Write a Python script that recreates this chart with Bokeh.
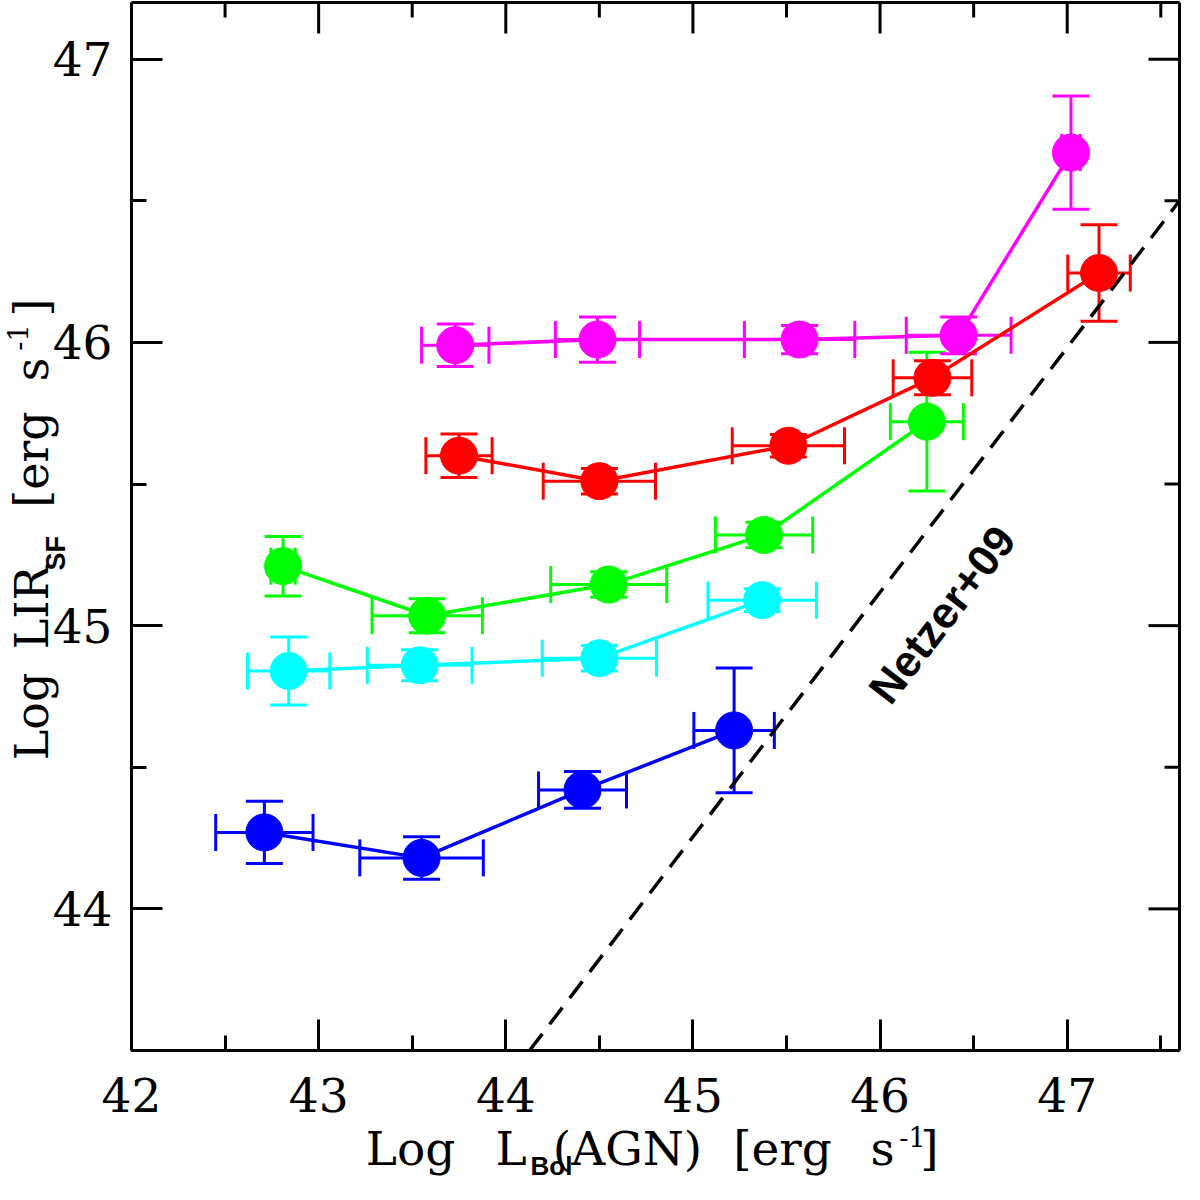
import numpy as np
from bokeh.plotting import figure
from bokeh.models import ColumnDataSource, Whisker, TeeHead, LinearAxis, FixedTicker, Label, Range1d
from bokeh.embed import file_html
from bokeh.resources import INLINE

# Log L_Bol(AGN), Log LIR_SF and their errors
blue_x = [42.71, 43.55, 44.41, 45.22]
blue_y = [44.27, 44.18, 44.42, 44.63]
blue_xerr = [0.26, 0.33, 0.235, 0.215]
blue_yerr = [0.11, 0.075, 0.065, 0.22]

cyan_x = [42.84, 43.54, 44.50, 45.37]
cyan_y = [44.84, 44.86, 44.885, 45.09]
cyan_xerr = [0.22, 0.28, 0.305, 0.29]
cyan_yerr = [0.12, 0.055, 0.045, 0.04]

green_x = [42.81, 43.58, 44.55, 45.38, 46.25]
green_y = [45.21, 45.035, 45.145, 45.32, 45.72]
green_xerr = [0.065, 0.295, 0.31, 0.26, 0.195]
green_yerr = [0.105, 0.06, 0.045, 0.045, 0.245]

red_x = [43.75, 44.50, 45.51, 46.28, 47.17]
red_y = [45.60, 45.51, 45.635, 45.875, 46.245]
red_xerr = [0.177, 0.30, 0.30, 0.21, 0.167]
red_yerr = [0.077, 0.045, 0.04, 0.06, 0.17]

magenta_x = [43.73, 44.49, 45.57, 46.42, 47.02]
magenta_y = [45.99, 46.01, 46.01, 46.025, 46.67]
magenta_xerr = [0.18, 0.225, 0.295, 0.28, 0.05]
magenta_yerr = [0.075, 0.08, 0.05, 0.065, 0.2]

# Netzer+09 relation (end points of the dashed line)
netzer_x = [44.127, 47.6]
netzer_y = [43.5, 46.50]

x_lim = (42.0, 47.6)
y_lim = (43.5, 47.2)
x_ticks = [42, 43, 44, 45, 46, 47]
x_minor = [42.5, 43.5, 44.5, 45.5, 46.5, 47.5]
y_ticks = [44, 45, 46, 47]
y_minor = [43.5, 44.5, 45.5, 46.5]

series = [
    ("#0000ff", blue_x, blue_y, blue_xerr, blue_yerr),
    ("#00ffff", cyan_x, cyan_y, cyan_xerr, cyan_yerr),
    ("#00ff00", green_x, green_y, green_xerr, green_yerr),
    ("#ff0000", red_x, red_y, red_xerr, red_yerr),
    ("#ff00ff", magenta_x, magenta_y, magenta_xerr, magenta_yerr),
]

SERIF = "DejaVu Serif"
SANS = "Liberation Sans"

# canvas layout: the frame fills the whole canvas, the box sits inside it
W, H = 1184, 1184
BOX_L, BOX_R, BOX_T, BOX_B = 131, 1179, 2, 1050
xpp = (x_lim[1] - x_lim[0]) / (BOX_R - BOX_L)
ypp = (y_lim[1] - y_lim[0]) / (BOX_B - BOX_T)
x_range = Range1d(x_lim[0] - BOX_L * xpp, x_lim[1] + (W - BOX_R) * xpp)
y_range = Range1d(y_lim[0] - (H - BOX_B) * ypp, y_lim[1] + BOX_T * ypp)

p = figure(width=W, height=H, x_range=x_range, y_range=y_range,
           x_axis_location=None, y_axis_location=None,
           min_border=0, output_backend="svg", toolbar_location=None)
p.grid.visible = False
p.outline_line_color = None
p.background_fill_color = "white"
p.border_fill_color = "white"

MAJOR, MINOR = 31, 15


def style_axis(ax, ticks, minor, standoff):
    ax.ticker = FixedTicker(ticks=ticks, minor_ticks=minor)
    ax.axis_line_width = 3
    ax.axis_line_color = "black"
    ax.major_tick_line_width = 3
    ax.minor_tick_line_width = 3
    ax.major_tick_in = MAJOR
    ax.major_tick_out = 0
    ax.minor_tick_in = MINOR
    ax.minor_tick_out = 0
    ax.major_label_text_font = SERIF
    ax.major_label_text_font_size = "47px"
    ax.major_label_text_color = "black"
    ax.major_label_standoff = standoff


xaxis = LinearAxis(fixed_location=y_lim[0], bounds=x_lim)
style_axis(xaxis, x_ticks, x_minor, 27)
p.add_layout(xaxis, "below")
yaxis = LinearAxis(fixed_location=x_lim[0], bounds=y_lim)
style_axis(yaxis, y_ticks, y_minor, 19)
p.add_layout(yaxis, "left")

# top and right edges of the box with inward ticks
p.segment(x0=[x_lim[0], x_lim[1]], y0=[y_lim[1], y_lim[0]], x1=[x_lim[1], x_lim[1]],
          y1=[y_lim[1], y_lim[1]], line_color="black", line_width=3)
for t, n in ((x_ticks, MAJOR), (x_minor, MINOR)):
    p.segment(x0=t, x1=t, y0=[y_lim[1]] * len(t), y1=[y_lim[1] - n * ypp] * len(t),
              line_color="black", line_width=3)
for t, n in ((y_ticks, MAJOR), (y_minor, MINOR)):
    p.segment(y0=t, y1=t, x0=[x_lim[1]] * len(t), x1=[x_lim[1] - n * xpp] * len(t),
              line_color="black", line_width=3)

p.line(netzer_x, netzer_y, line_color="black", line_width=3.5, line_dash="21 12")

for c, x, y, xe, ye in series:
    x = np.array(x)
    y = np.array(y)
    xe = np.array(xe)
    ye = np.array(ye)
    src = ColumnDataSource(dict(x=x, y=y, xl=x - xe, xu=x + xe, yl=y - ye, yu=y + ye))
    p.add_layout(Whisker(source=src, base="x", lower="yl", upper="yu", dimension="height",
                         line_color=c, line_width=3,
                         lower_head=TeeHead(size=37, line_color=c, line_width=3),
                         upper_head=TeeHead(size=37, line_color=c, line_width=3)))
    p.add_layout(Whisker(source=src, base="y", lower="xl", upper="xu", dimension="width",
                         line_color=c, line_width=3,
                         lower_head=TeeHead(size=37, line_color=c, line_width=3),
                         upper_head=TeeHead(size=37, line_color=c, line_width=3)))
    p.line("x", "y", source=src, line_color=c, line_width=3.5)
    p.scatter("x", "y", source=src, size=37, fill_color=c, line_color=c)

p.add_layout(Label(x=46.33, y=45.04, text="Netzer+09", angle=52.5, angle_units="deg",
                   text_font=SANS, text_font_style="bold", text_font_size="44px",
                   text_align="center", text_baseline="middle", text_color="black"))


def put(text, sx, sy, size, font=SERIF, style="normal", angle=0, align="center"):
    p.add_layout(Label(x=sx, y=sy, x_units="screen", y_units="screen", text=text,
                       text_font=font, text_font_style=style, text_font_size=size,
                       text_align=align, text_baseline="middle", angle=angle,
                       angle_units="deg", text_color="black"))


# x axis title in pieces (screen px from the canvas bottom-left corner)
put("Log", 410, 36, "47px")
put("L", 495, 36, "47px", align="left")
put("Bol", 530, 19, "26px", font=SANS, style="bold", align="left")
put("(AGN)", 627, 36, "47px")
put("[erg", 782, 36, "47px")
put("s", 882, 36, "47px")
put("-1", 912, 48, "27px")
put("]", 929, 36, "47px")

# y axis title, rotated, same idea
put("Log", 31, 468, "46px", angle=90)
put("LIR", 31, 577, "46px", angle=90)
put("SF", 55, 614, "27px", font=SANS, style="bold", angle=90, align="left")
put("[erg", 31, 725, "46px", angle=90)
put("s", 31, 815, "46px", angle=90)
put("-1", 17, 847, "27px", angle=90)
put("]", 31, 877, "46px", angle=90)

open("out.html", "w").write(file_html(p, INLINE))
